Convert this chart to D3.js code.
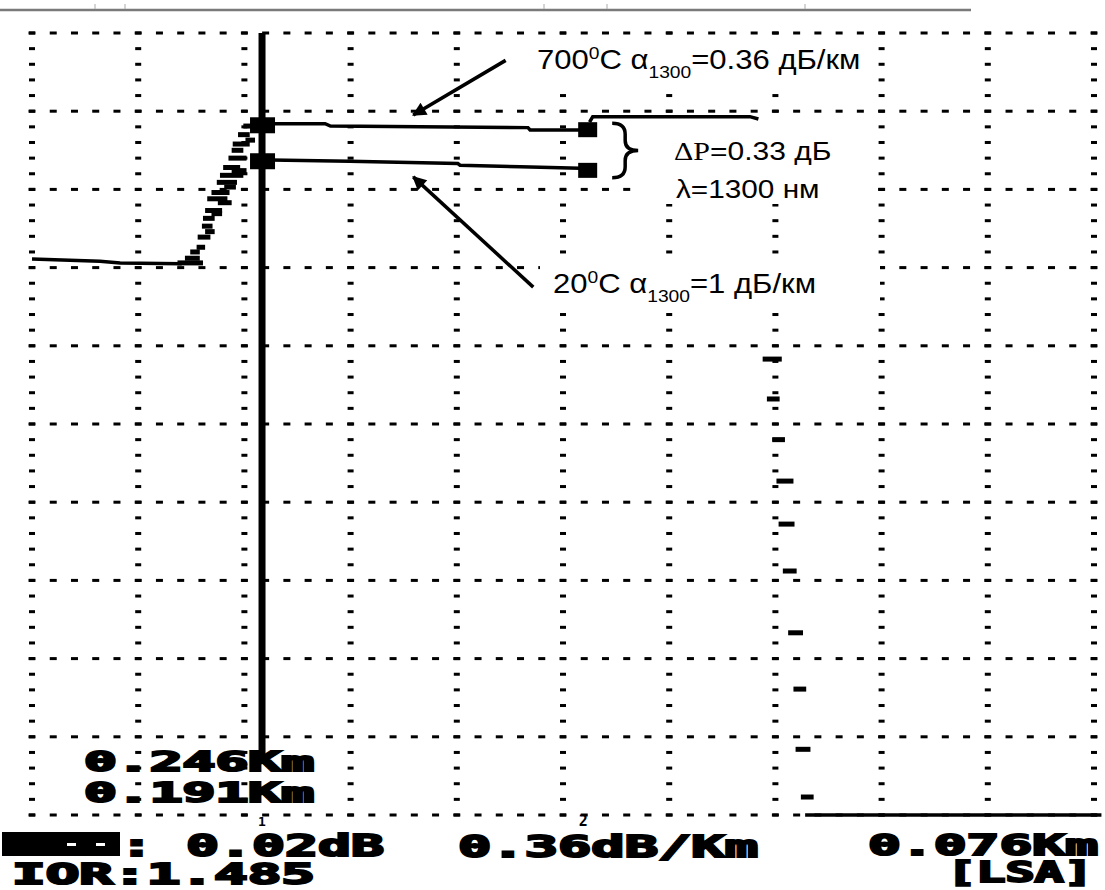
<!DOCTYPE html>
<html>
<head>
<meta charset="utf-8">
<script src="https://cdn.jsdelivr.net/npm/d3@7"></script>
<style>
  body { margin: 0; background: #fff; }
  svg { display: block; }
</style>
</head>
<body>
<script>
const W = 1105, H = 890;

// screen is 10 x 10 divisions, 5 minor steps per division
const divisions = d3.range(0, 11);
const minorSteps = d3.range(0, 51).map(i => i * 0.2);

// cursor positions (div)
const cursor1 = 2.166;
const cursor2 = 5.19;

// traces: [distance div, level div]
const baseline = [[0, 7.11], [0.64, 7.08], [0.83, 7.06], [1.41, 7.05]];
// rising front, drawn as sample runs [from div, to div, level div]
const rampRuns = [
  [1.37, 1.61, 7.06], [1.44, 1.58, 7.12], [1.49, 1.58, 7.20], [1.55, 1.63, 7.26],
  [1.56, 1.68, 7.39], [1.63, 1.72, 7.46], [1.60, 1.70, 7.53], [1.61, 1.72, 7.63],
  [1.69, 1.79, 7.69], [1.63, 1.79, 7.73], [1.75, 1.88, 7.83], [1.65, 1.84, 7.88],
  [1.69, 1.86, 7.96], [1.81, 1.92, 8.03], [1.74, 1.93, 8.09], [1.77, 1.99, 8.18],
  [1.88, 2.02, 8.24], [1.80, 1.96, 8.28], [1.85, 2.02, 8.40], [1.88, 1.99, 8.50],
  [1.89, 2.05, 8.58], [2.01, 2.10, 8.63], [1.94, 2.05, 8.70], [1.99, 2.12, 8.81]
];
const trace700 = [[2.10, 8.84], [2.76, 8.84], [2.81, 8.81], [4.67, 8.79], [4.69, 8.76], [5.16, 8.76]];
const trace700end = [[5.25, 8.86], [5.28, 8.93], [6.76, 8.93], [6.84, 8.90]];
const trace20 = [[2.10, 8.38], [2.99, 8.36], [4.01, 8.33], [4.03, 8.31], [4.60, 8.29], [5.16, 8.27]];
const tailRuns = [
  [6.88, 7.06, 5.83], [6.92, 7.04, 5.32], [6.97, 7.09, 4.80], [7.01, 7.17, 4.27],
  [7.03, 7.18, 3.72], [7.07, 7.20, 3.12], [7.12, 7.26, 2.33], [7.17, 7.29, 1.61],
  [7.19, 7.33, 0.84], [7.24, 7.36, 0.23]
];
const noiseFloor = [[7.28, 0.0], [10.07, 0.0]];

// levels of the two traces at the cursors
const cursor1Levels = [8.82, 8.36];
const cursor2Levels = [8.77, 8.25];

// instrument readouts
const readRows = ["0.246Km", "0.191Km"];
const lossText = ": 0.02dB";
const slopeText = "0.36dB/Km";
const spanText = "0.076Km";
const iorText = "IOR:1.485";
const modeText = "[LSA]";

const x = d3.scaleLinear().domain([0, 10]).range([32, 1094]);
const y = d3.scaleLinear().domain([0, 10]).range([815, 33]);

const svg = d3.select("body").append("svg")
  .attr("width", W)
  .attr("height", H);

svg.append("rect").attr("width", W).attr("height", H).attr("fill", "#fff");

// top bar of the screenshot
svg.append("line")
  .attr("x1", 0).attr("x2", 971).attr("y1", 10).attr("y2", 10)
  .attr("stroke", "#7a7a7a").attr("stroke-width", 2.5);
svg.selectAll(".topTick")
  .data([95, 125, 544, 607, 805])
  .enter().append("line")
  .attr("x1", d => d).attr("x2", d => d)
  .attr("y1", 4).attr("y2", 9)
  .attr("stroke", "#aaa").attr("stroke-width", 1);

// grid: dashed rows and columns
const grid = svg.append("g");
divisions.forEach(col => {
  grid.selectAll(null)
    .data(minorSteps)
    .enter().append("rect")
    .attr("x", x(col) - 3)
    .attr("y", d => y(d) - 1.5)
    .attr("width", 6).attr("height", 3)
    .attr("fill", "#000");
});
divisions.forEach(row => {
  grid.selectAll(null)
    .data(minorSteps)
    .enter().append("rect")
    .attr("x", d => x(d) - 3.5)
    .attr("y", y(row) - 1.5)
    .attr("width", 7).attr("height", 3)
    .attr("fill", "#000");
});

// white patches under the pasted captions
[[528, 38, 344, 54], [634, 118, 232, 86], [540, 258, 340, 48]].forEach(b => {
  svg.append("rect").attr("x", b[0]).attr("y", b[1]).attr("width", b[2]).attr("height", b[3]).attr("fill", "#fff");
});

// cursor 1 line
svg.append("line")
  .attr("x1", x(cursor1)).attr("x2", x(cursor1))
  .attr("y1", y(10)).attr("y2", y(0.7))
  .attr("stroke", "#000").attr("stroke-width", 7);

const line = d3.line().x(d => x(d[0])).y(d => y(d[1]));

[baseline, trace700, trace700end, trace20, noiseFloor].forEach(tr => {
  svg.append("path")
    .attr("d", line(tr))
    .attr("fill", "none")
    .attr("stroke", "#000")
    .attr("stroke-width", 3.5);
});

svg.selectAll(".ramp")
  .data(rampRuns.concat(tailRuns))
  .enter().append("rect")
  .attr("x", d => x(d[0]))
  .attr("y", d => y(d[2]) - 2.5)
  .attr("width", d => x(d[1]) - x(d[0]))
  .attr("height", 5)
  .attr("fill", "#000");

// trace markers at cursors
svg.selectAll(".c1")
  .data(cursor1Levels)
  .enter().append("rect")
  .attr("x", x(cursor1) - 12)
  .attr("y", d => y(d) - 8)
  .attr("width", 25).attr("height", 16)
  .attr("fill", "#000");
svg.selectAll(".c2")
  .data(cursor2Levels)
  .enter().append("rect")
  .attr("x", x(cursor2) - 5)
  .attr("y", d => y(d) - 7)
  .attr("width", 19).attr("height", 15)
  .attr("fill", "#000");

// annotations
const defs = svg.append("defs");
defs.append("marker")
  .attr("id", "head")
  .attr("viewBox", "0 0 10 10")
  .attr("refX", 9).attr("refY", 5)
  .attr("markerWidth", 5).attr("markerHeight", 4)
  .attr("orient", "auto")
  .append("path").attr("d", "M0,0 L10,5 L0,10 z").attr("fill", "#000");

const arrows = [
  [[4.46, 9.65], [3.59, 8.95]],
  [[4.72, 6.75], [3.59, 8.16]]
];
svg.selectAll(".arrow")
  .data(arrows)
  .enter().append("line")
  .attr("x1", d => x(d[0][0])).attr("y1", d => y(d[0][1]))
  .attr("x2", d => x(d[1][0])).attr("y2", d => y(d[1][1]))
  .attr("stroke", "#000").attr("stroke-width", 3.5)
  .attr("marker-end", "url(#head)");

function label(px, py, parts, size, sx) {
  const t = svg.append("text")
    .attr("transform", `translate(${px},${py}) scale(${sx},1)`)
    .attr("font-family", "'Liberation Sans', Arial, sans-serif")
    .attr("font-size", size)
    .attr("fill", "#000");
  parts.forEach(p => {
    const s = t.append("tspan").text(p.t);
    if (p.sup) s.attr("font-size", size * 0.62).attr("dy", -size * 0.36);
    if (p.sub) s.attr("font-size", size * 0.62).attr("dy", size * 0.33);
    if (p.back) s.attr("dy", p.back);
    if (p.serif) s.attr("font-family", "'Liberation Serif', serif");
  });
  return t;
}

label(537, y(9.54), [
  { t: "700" }, { t: "0", sup: true }, { t: "C ", back: 27 * 0.36 },
  { t: "α" }, { t: "1300", sub: true }, { t: "=0.36 дБ/км", back: -27 * 0.33 }
], 27, 1.15);
label(553, y(6.68), [
  { t: "20" }, { t: "0", sup: true }, { t: "C  ", back: 27 * 0.36 },
  { t: "α" }, { t: "1300", sub: true }, { t: "=1 дБ/км", back: -27 * 0.33 }
], 27, 1.15);
label(674, y(8.38), [{ t: "ΔP", serif: true }, { t: "=0.33 дБ" }], 25, 1.2);
label(676, y(7.89), [{ t: "λ" }, { t: "=1300 нм" }], 25, 1.19);

// brace between the two markers
const bx = x(cursor2) + 29;
const braceTop = y(cursor2Levels[0]) - 6, braceBot = y(cursor2Levels[1]) + 8;
const braceMid = (braceTop + braceBot) / 2;
svg.append("path")
  .attr("d", `M${bx},${braceTop} q13,0 13,11 v${braceMid - braceTop - 21} q0,10 13,10 q-13,0 -13,10 v${braceBot - braceMid - 21} q0,11 -13,11`)
  .attr("fill", "none").attr("stroke", "#000").attr("stroke-width", 3.5);

// instrument readouts (blocky screen font)
function readout(px, py, str, len, size) {
  svg.append("text")
    .attr("x", px).attr("y", py)
    .attr("font-family", "'DejaVu Sans Mono', monospace")
    .attr("font-weight", "bold")
    .attr("font-size", size || 30)
    .attr("textLength", len)
    .attr("lengthAdjust", "spacingAndGlyphs")
    .attr("stroke", "#000").attr("stroke-width", 2)
    .attr("fill", "#000")
    .text(str);
}
readout(84, 771, readRows[0], 230, 26);
readout(84, 802, readRows[1], 230, 26);
readout(120, 856, lossText, 264);
readout(458, 857, slopeText, 300);
readout(868, 855, spanText, 230, 29);
readout(12, 884, iorText, 303, 28);
readout(947, 882, modeText, 146, 28);

// reverse-video label block
svg.append("rect").attr("x", 2).attr("y", 832).attr("width", 118).attr("height", 24).attr("fill", "#000");
svg.selectAll(".blk")
  .data([67, 96])
  .enter().append("rect")
  .attr("x", d => d).attr("y", 843).attr("width", 9).attr("height", 3).attr("fill", "#fff");

// cursor numbers under the grid
svg.append("text").attr("x", x(cursor1)).attr("y", 826)
  .attr("text-anchor", "middle")
  .attr("font-family", "'DejaVu Sans Mono', monospace").attr("font-weight", "bold")
  .attr("font-size", 13).text("1");
svg.append("text").attr("x", x(cursor2)).attr("y", 826)
  .attr("text-anchor", "middle")
  .attr("font-family", "'DejaVu Sans Mono', monospace").attr("font-weight", "bold")
  .attr("font-size", 15).text("2");
</script>
</body>
</html>
